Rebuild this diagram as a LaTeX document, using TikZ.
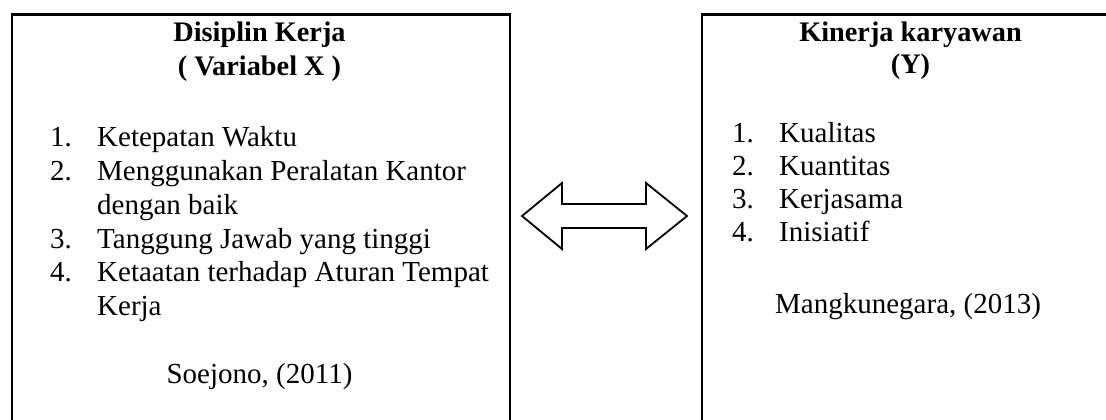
\documentclass[tikz,border=0pt]{standalone}
\usepackage{fontspec}
\setmainfont{Liberation Serif}
\begin{document}
\begin{tikzpicture}[x=1pt,y=-1pt,
  frame/.style={draw, line width=2.2pt, inner sep=0pt, anchor=north west},
  txt/.style={anchor=base west, inner sep=0pt, font=\fontsize{29}{34}\selectfont},
  ctxt/.style={anchor=base, inner sep=0pt, font=\fontsize{29}{34}\selectfont},
  ttl/.style={anchor=base, inner sep=0pt, font=\fontsize{28.3}{34}\selectfont\bfseries},
  arrowshape/.style={draw, line width=1.8pt, line join=miter, fill=white}]
\useasboundingbox (0,0) rectangle (1106,420);
\clip (0,0) rectangle (1106,420);
\node[frame, minimum width=498.5pt, minimum height=430pt] (lbox) at (10.5,13.5) {};
\node[frame, minimum width=420pt, minimum height=430pt] (rbox) at (700.5,13.5) {};
% left box texts
\node[ttl] (lt1) at (259.5,42) {Disiplin Kerja};
\node[ttl] (lt2) at (259.5,75) {( Variabel X )};
\node[txt] (ln1) at (50,146) {1.};
\node[txt] (li1) at (97,146) {Ketepatan Waktu};
\node[txt] (ln2) at (50,180) {2.};
\node[txt] (li2) at (97,180) {Menggunakan Peralatan Kantor};
\node[txt] (li2b) at (97,214) {dengan baik};
\node[txt] (ln3) at (50,248) {3.};
\node[txt] (li3) at (97,248) {Tanggung Jawab yang tinggi};
\node[txt] (ln4) at (50,281) {4.};
\node[txt] (li4) at (97,281) {Ketaatan terhadap Aturan Tempat};
\node[txt] (li4b) at (97,315) {Kerja};
\node[ctxt] (lsrc) at (259.5,383) {Soejono, (2011)};
% right box texts
\node[ttl] (rt1) at (910.5,42) {Kinerja karyawan};
\node[ttl] (rt2) at (910.5,74) {(Y)};
\node[txt] (rn1) at (732,142) {1.};
\node[txt] (ri1) at (779,142) {Kualitas};
\node[txt] (rn2) at (732,175) {2.};
\node[txt] (ri2) at (779,175) {Kuantitas};
\node[txt] (rn3) at (732,208) {3.};
\node[txt] (ri3) at (779,208) {Kerjasama};
\node[txt] (rn4) at (732,241) {4.};
\node[txt] (ri4) at (779,241) {Inisiatif};
\node[txt] (rsrc) at (775,313) {Mangkunegara, (2013)};
% double arrow
\draw[arrowshape] (522,216) -- (562,183) -- (562,204) -- (646,204) -- (646,183)
  -- (687,216) -- (646,249) -- (646,228) -- (562,228) -- (562,249) -- cycle;
\end{tikzpicture}
\end{document}
